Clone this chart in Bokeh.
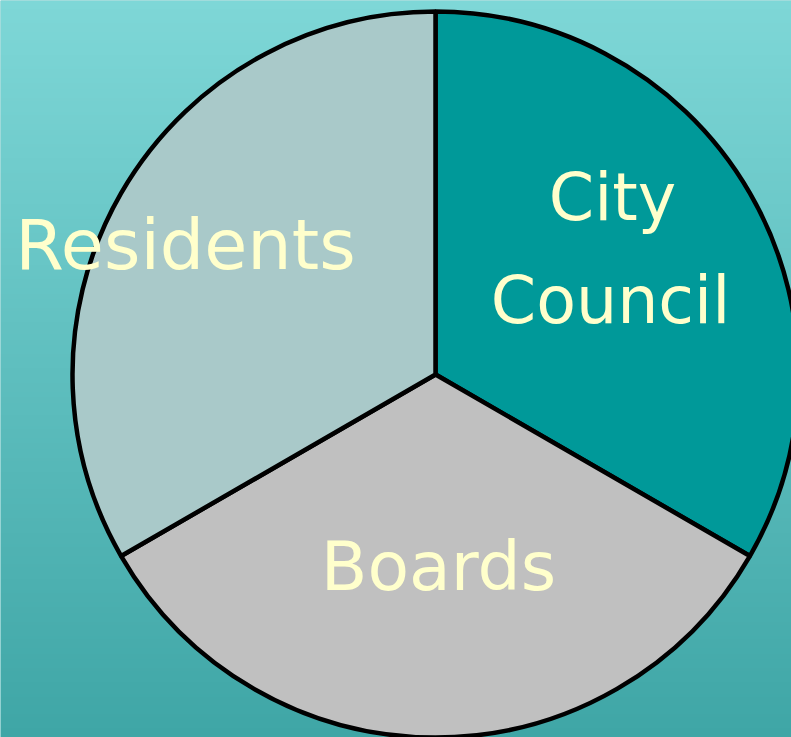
import numpy as np
from bokeh.plotting import figure
from bokeh.models import Range1d, ColumnDataSource
from bokeh.core.properties import value
from bokeh.embed import file_html
from bokeh.resources import INLINE

# data
labels = ["City Council", "Boards", "Residents"]
shares = [1, 1, 1]
colors = ["#009999", "#C0C0C0", "#A9C9C9"]
label_lines = ["City", "Council", "Boards", "Residents"]

W, H = 791, 737
p = figure(width=W, height=H, output_backend="svg", toolbar_location=None,
           x_range=Range1d(0, W), y_range=Range1d(0, H),
           min_border=0, outline_line_color=None)
p.axis.visible = False
p.grid.visible = False
p.background_fill_color = "#5fbfbf"
p.border_fill_color = None

# gradient background (top -> bottom)
n = 256
top = np.array([0x7e, 0xd7, 0xd7], dtype=float)
bot = np.array([0x3f, 0xa6, 0xa6], dtype=float)
img = np.zeros((n, 1), dtype=np.uint32)
view = img.view(dtype=np.uint8).reshape((n, 1, 4))
for i in range(n):
    t = i / (n - 1)  # row 0 = bottom
    c = bot * (1 - t) + top * t
    view[i, 0, 0:3] = np.round(c).astype(np.uint8)
    view[i, 0, 3] = 255
p.image_rgba(image=[img], x=0, y=0, dw=W, dh=H)

# pie
cx, cy, r = 435, H - 374, 363
vals = np.array(shares, dtype=float)
ang = vals / vals.sum() * 2 * np.pi
cum = np.concatenate([[0], np.cumsum(ang)])
start = np.pi / 2 - cum[1:]
end = np.pi / 2 - cum[:-1]
src = ColumnDataSource(dict(start=start, end=end, color=colors, label=labels))
p.wedge(x=cx, y=cy, radius=r, start_angle="start", end_angle="end",
        fill_color="color", line_color="black", line_width=4.5, source=src)

# labels
sizes = [65, 65, 68, 70]
tx = [612, 610, 438, 185]
base = [222, 325, 593, 272]
ty = [H - (b - 0.39 * s) for b, s in zip(base, sizes)]
p.text(x=tx, y=ty, text=label_lines, text_color="#FFFFCC", text_font=value("DejaVu Sans"),
       text_font_size=[f"{s}px" for s in sizes], text_align="center", text_baseline="alphabetic")

html = file_html(p, INLINE)
open("out.html", "w").write(html)
